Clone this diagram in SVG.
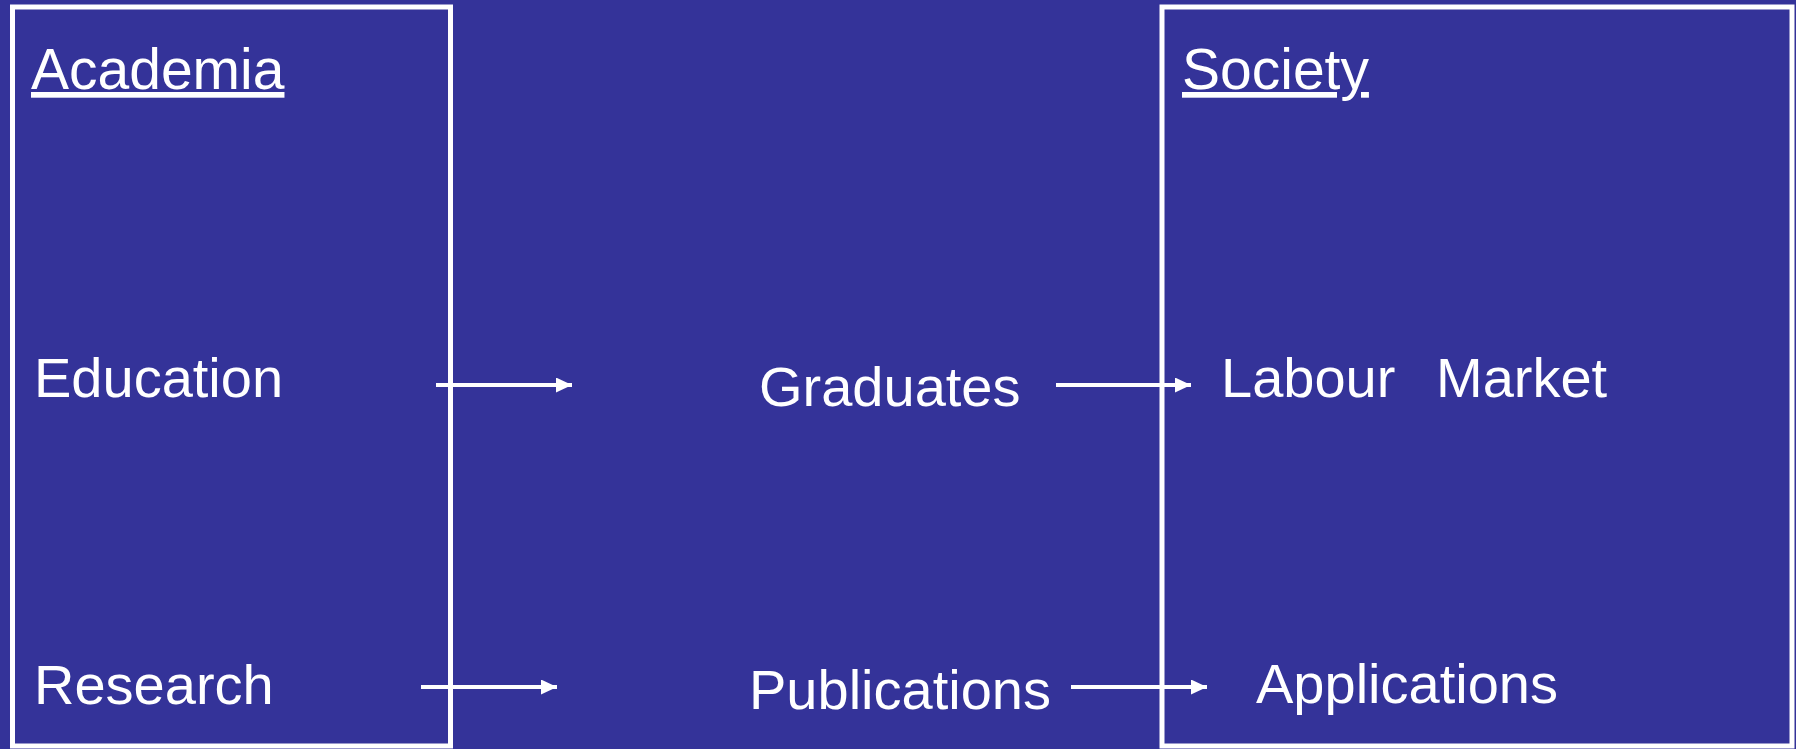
<svg xmlns="http://www.w3.org/2000/svg" width="1796" height="749" viewBox="0 0 1796 749">
<style>
.box{fill:none;stroke:#ffffff;stroke-width:5}
.t{font-family:"Liberation Sans",Arial,sans-serif;font-size:56px;fill:#ffffff}
.h{font-family:"Liberation Sans",Arial,sans-serif;font-size:57px;fill:#ffffff;text-decoration:underline}
.c{stroke:#ffffff;stroke-width:4;fill:none;marker-end:url(#ah)}
</style>
<defs>
<marker id="ah" markerUnits="userSpaceOnUse" markerWidth="18" markerHeight="16" refX="16" refY="7.5" orient="auto">
<path d="M0,0 L16,7.5 L0,15 Z" fill="#ffffff"/>
</marker>
</defs>
<rect x="0" y="0" width="1796" height="749" fill="#343399"/>
<g id="academia">
<rect class="box" x="12.5" y="7" width="438" height="739"/>
<text class="h" x="31" y="89">Academia</text>
</g>
<g id="society">
<rect class="box" x="1162" y="7" width="630" height="739"/>
<text class="h" x="1182" y="89">Society</text>
</g>
<g id="education"><text class="t" x="34" y="397">Education</text></g>
<g id="research"><text class="t" x="34" y="704">Research</text></g>
<g id="graduates"><text class="t" x="759" y="406">Graduates</text></g>
<g id="publications"><text class="t" x="749" y="709">Publications</text></g>
<g id="labour-market"><text class="t" x="1221" y="397">Labour <tspan x="1436">Market</tspan></text></g>
<g id="applications"><text class="t" x="1256" y="703">Applications</text></g>
<g id="connectors">
<line class="c" x1="436" y1="385" x2="572" y2="385"/>
<line class="c" x1="1056" y1="385" x2="1191" y2="385"/>
<line class="c" x1="421" y1="687" x2="557" y2="687"/>
<line class="c" x1="1071" y1="687" x2="1207" y2="687"/>
</g>
</svg>
